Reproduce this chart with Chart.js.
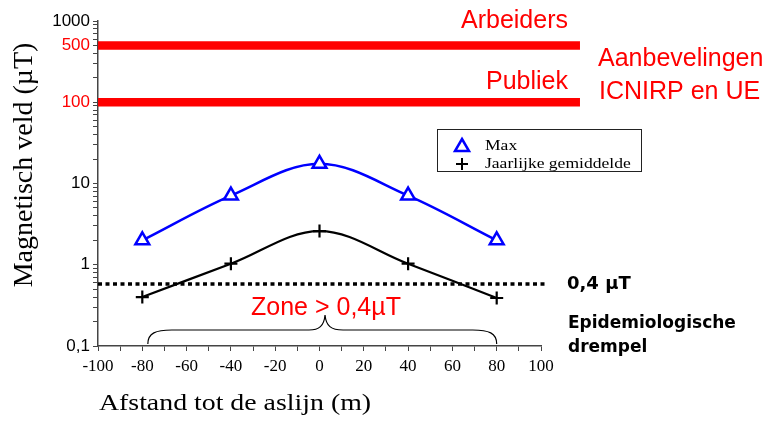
<!DOCTYPE html>
<html>
<head>
<meta charset="utf-8">
<script src="https://cdn.jsdelivr.net/npm/chart.js@4.4.0/dist/chart.umd.min.js"></script>
<style>
html,body{margin:0;padding:0;background:#fff;}
#wrap{width:773px;height:421px;position:relative;}
</style>
</head>
<body>
<div id="wrap"><canvas id="c" width="773" height="421"></canvas></div>
<script>
// ---- data ----
const distances = [-80, -40, 0, 40, 80];
const maxField = [2.0, 7.1, 17.5, 7.1, 2.0];
const meanField = [0.40, 1.03, 2.6, 1.03, 0.39];
const workerLimit = 500;
const publicLimit = 100;
const thresholdLevel = 0.58;          // dotted line as drawn (labelled 0,4 µT)
const limitLineX = [-100, 117.6];     // red limit lines extend past the axis
const thresholdLineX = [-100, 102.7];
const zoneX = [-77.5, 2.5, 80];       // brace: left end, tip, right end
const yTickValues = [0.1, 1, 10, 100, 500, 1000];
const yTickLabels = ['0,1', '1', '10', '100', '500', '1000'];
const xTickLabelStep = 20;

const RED = '#ff0000';
const BLUE = '#0000ff';

function minorLogTicks() {
  const out = [];
  for (let d = 0.1; d < 1000; d *= 10) {
    for (let k = 1; k < 10; k++) out.push(+(d * k).toPrecision(3));
  }
  out.push(1000);
  yTickValues.forEach(v => { if (!out.includes(v)) out.push(v); });
  return out.sort((a, b) => a - b);
}

const annotations = {
  id: 'annotations',
  afterDraw(chart) {
    const ctx = chart.ctx;
    const xs = chart.scales.x, ys = chart.scales.y;
    ctx.save();
    // red texts
    ctx.fillStyle = RED;
    ctx.font = '25px "Liberation Sans", Arial, sans-serif';
    ctx.textAlign = 'right';
    ctx.textBaseline = 'alphabetic';
    ctx.fillText('Arbeiders', 568, 28);
    ctx.fillText('Publiek', 568, 89);
    ctx.textAlign = 'left';
    ctx.fillText('Aanbevelingen', 598, 66);
    ctx.fillText('ICNIRP en UE', 599, 99);
    ctx.fillText('Zone > 0,4µT', 251, 315);

    // black bold texts
    ctx.fillStyle = '#000';
    ctx.font = 'bold 18px "DejaVu Sans", Verdana, sans-serif';
    ctx.fillText('0,4 µT', 567, 289);
    ctx.font = 'bold 17px "DejaVu Sans", Verdana, sans-serif';
    ctx.fillText('Epidemiologische', 568, 328);
    ctx.fillText('drempel', 568, 352);

    // brace
    const left = xs.getPixelForValue(zoneX[0]);
    const mid = xs.getPixelForValue(zoneX[1]);
    const right = xs.getPixelForValue(zoneX[2]);
    const yBase = ys.getPixelForValue(0.1) - 2;
    const yBar = yBase - 14;
    const yTip = yBase - 29;
    ctx.strokeStyle = '#000';
    ctx.lineWidth = 1.2;
    ctx.beginPath();
    ctx.moveTo(left, yBase);
    ctx.bezierCurveTo(left, yBar + 3, left + 8, yBar, left + 24, yBar);
    ctx.lineTo(mid - 16, yBar);
    ctx.bezierCurveTo(mid - 6, yBar, mid - 1, yBar - 4, mid, yTip);
    ctx.bezierCurveTo(mid + 1, yBar - 4, mid + 6, yBar, mid + 18, yBar);
    ctx.lineTo(right - 24, yBar);
    ctx.bezierCurveTo(right - 8, yBar, right, yBar + 3, right, yBase);
    ctx.stroke();

    // legend box
    ctx.strokeStyle = '#222';
    ctx.lineWidth = 1;
    ctx.strokeRect(437.5, 129.5, 204, 42);
    // triangle marker
    ctx.strokeStyle = BLUE;
    ctx.lineWidth = 2.5;
    ctx.beginPath();
    ctx.moveTo(462, 139);
    ctx.lineTo(469, 151);
    ctx.lineTo(455, 151);
    ctx.closePath();
    ctx.stroke();
    // cross marker
    ctx.strokeStyle = '#000';
    ctx.lineWidth = 2;
    ctx.beginPath();
    ctx.moveTo(456, 164); ctx.lineTo(468, 164);
    ctx.moveTo(462, 158); ctx.lineTo(462, 170);
    ctx.stroke();
    // legend text (slightly stretched like the reference)
    ctx.fillStyle = '#000';
    ctx.font = '15px "Liberation Serif", "Times New Roman", serif';
    ctx.textAlign = 'left';
    ctx.save(); ctx.translate(485, 150); ctx.scale(1.17, 1); ctx.fillText('Max', 0, 0); ctx.restore();
    ctx.save(); ctx.translate(485, 168); ctx.scale(1.17, 1); ctx.fillText('Jaarlijke gemiddelde', 0, 0); ctx.restore();

    // axis titles
    ctx.font = '24px "Liberation Serif", "Times New Roman", serif';
    ctx.textAlign = 'center';
    ctx.save(); ctx.translate(235, 410); ctx.scale(1.16, 1); ctx.fillText('Afstand tot de aslijn (m)', 0, 0); ctx.restore();
    ctx.font = '28px "Liberation Serif", "Times New Roman", serif';
    ctx.save(); ctx.translate(32, 165); ctx.rotate(-Math.PI / 2); ctx.fillText('Magnetisch veld (µT)', 0, 0); ctx.restore();
    ctx.restore();
  }
};

new Chart(document.getElementById('c'), {
  type: 'line',
  data: {
    datasets: [
      {
        label: 'Arbeiders',
        data: limitLineX.map(x => ({x, y: workerLimit})),
        borderColor: RED, borderWidth: 8.5, pointRadius: 0, clip: false, borderCapStyle: 'butt'
      },
      {
        label: 'Publiek',
        data: limitLineX.map(x => ({x, y: publicLimit})),
        borderColor: RED, borderWidth: 8.5, pointRadius: 0, clip: false, borderCapStyle: 'butt'
      },
      {
        label: '0,4 µT',
        data: thresholdLineX.map(x => ({x, y: thresholdLevel})),
        borderColor: '#000', borderWidth: 3.5, borderDash: [4, 3.5], pointRadius: 0, clip: false
      },
      {
        label: 'Max',
        data: distances.map((x, i) => ({x, y: maxField[i]})),
        borderColor: BLUE, borderWidth: 2.5, tension: 0.35,
        pointStyle: 'triangle', pointRadius: 8, pointBorderWidth: 2.5,
        pointBorderColor: BLUE, pointBackgroundColor: '#fff'
      },
      {
        label: 'Jaarlijke gemiddelde',
        data: distances.map((x, i) => ({x, y: meanField[i]})),
        borderColor: '#000', borderWidth: 2.2, tension: 0.35,
        pointStyle: 'cross', pointRadius: 6.5, pointBorderWidth: 2.2,
        pointBorderColor: '#000'
      }
    ]
  },
  options: {
    responsive: false,
    animation: false,
    events: [],
    layout: { padding: { top: 21, right: 232, bottom: 0, left: 0 } },
    plugins: { legend: { display: false }, tooltip: { enabled: false } },
    scales: {
      x: {
        type: 'linear', min: -100, max: 100,
        afterFit(s) { s.height = 75; },
        grid: { drawOnChartArea: false, tickLength: 5, color: '#444', lineWidth: 1 },
        border: { color: '#444', width: 1.5 },
        ticks: {
          stepSize: 10, autoSkip: false, maxRotation: 0, padding: 5, color: '#000',
          font: { family: '"Liberation Serif", "Times New Roman", serif', size: 17 },
          callback: v => (v % xTickLabelStep === 0 ? String(v) : '')
        }
      },
      y: {
        type: 'logarithmic', min: 0.1, max: 1000,
        afterFit(s) { s.width = 98; },
        afterBuildTicks(s) { s.ticks = minorLogTicks().map(v => ({value: v})); },
        grid: { drawOnChartArea: false, tickLength: 5, color: '#444', lineWidth: 1 },
        border: { color: '#444', width: 1.5 },
        ticks: {
          autoSkip: false, padding: 3,
          font: { family: '"Liberation Sans", Arial, sans-serif', size: 17 },
          color: c => (c.tick && (c.tick.value === workerLimit || c.tick.value === publicLimit)) ? RED : '#000',
          callback: v => {
            const i = yTickValues.findIndex(t => Math.abs(t - v) < 1e-9);
            return i >= 0 ? yTickLabels[i] : '';
          }
        }
      }
    }
  },
  plugins: [annotations]
});
</script>
</body>
</html>
